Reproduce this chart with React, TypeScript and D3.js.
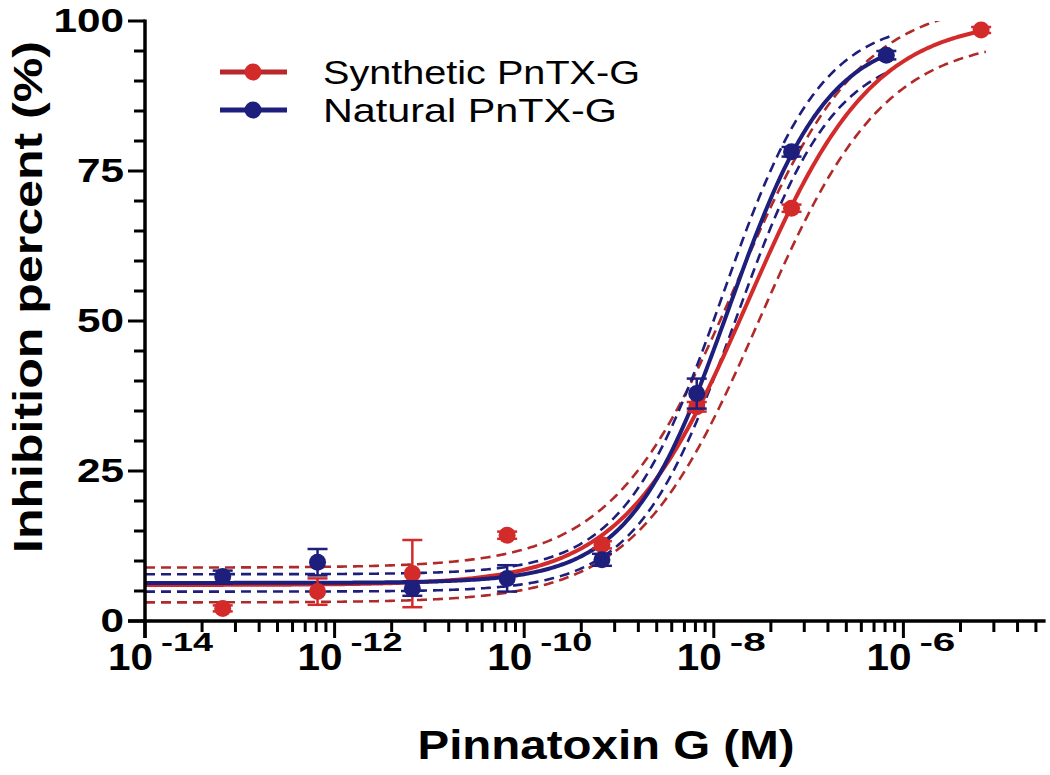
import React from 'react';
import * as d3 from 'd3';

// ---------- data ----------
const seriesNames = ['Synthetic PnTX-G', 'Natural PnTX-G'];
// log10 of concentration (M)
const synthLogConc = [-13.18, -12.18, -11.18, -10.18, -9.18, -8.18, -7.18, -5.18];
const synthMean = [2.1, 4.9, 7.9, 14.3, 12.7, 35.7, 68.8, 98.5];
const synthErr = [0.5, 2.2, 5.6, 0.6, 0.6, 0.8, 0.6, 0.5];
const naturalLogConc = [-13.18, -12.18, -11.18, -10.18, -9.18, -8.18, -7.18, -6.18];
const naturalMean = [7.4, 9.8, 5.4, 7.1, 10.2, 37.9, 78.2, 94.3];
const naturalErr = [1.0, 2.2, 1.2, 2.2, 1.0, 2.5, 0.8, 0.7];
// fitted 4PL: [bottom, top, logEC50, hillslope]
const synthFit = [6.0, 100.5, -7.64, 0.66];
const naturalFit = [6.35, 98, -7.84, 0.83];
// 95% band half widths: [bottom, top, logEC50]
const synthBand = [2.9, 3.2, 0.12];
const naturalBand = [1.45, 2.5, 0.07];
const yTickValues = [0, 25, 50, 75, 100];
const xMajorExponents = [-14, -12, -10, -8, -6];
const xTickSuperscripts = ['-14', '-12', '-10', '-8', '-6'];

const RED = '#d32a2a';
const RED_DARK = '#b02a2a';
const BLUE = '#1e1e7c';
const FONT = '"Liberation Sans", Arial, Helvetica, sans-serif';

const logistic = (p: number[], x: number) =>
  p[0] + (p[1] - p[0]) / (1 + Math.pow(10, (p[2] - x) * p[3]));

export default function App() {
  const x = d3.scaleLinear().domain([-14, -4.5]).range([145, 145 + 9.5 * 94.8]);
  const y = d3.scaleLinear().domain([0, 100]).range([621, 21]);
  const [x0, x1] = x.range();
  const [yb, yt] = y.range();

  const line = d3
    .line<[number, number]>()
    .x((d) => x(d[0]))
    .y((d) => y(d[1]))
    .curve(d3.curveLinear);

  const sample = (p: number[], xmax: number) => {
    const xs = d3.range(-14, xmax, 0.02);
    xs.push(xmax);
    return xs.map((v) => [v, logistic(p, v)] as [number, number]);
  };

  const series = [
    {
      name: seriesNames[0],
      xs: synthLogConc,
      ys: synthMean,
      es: synthErr,
      fit: synthFit,
      band: synthBand,
      color: RED,
      dash: RED_DARK,
      legendLine: '#b8272b',
    },
    {
      name: seriesNames[1],
      xs: naturalLogConc,
      ys: naturalMean,
      es: naturalErr,
      fit: naturalFit,
      band: naturalBand,
      color: BLUE,
      dash: BLUE,
      legendLine: BLUE,
    },
  ];

  // ticks
  const yMinor = d3.range(5, 100, 5).filter((v) => v % 25 !== 0);
  const xMinor: number[] = [];
  xMajorExponents.forEach((m) => {
    for (let k = 2; k <= 9; k++) {
      const v = m + 2 * Math.log10(k);
      if (v <= -4.5 + 1e-9) xMinor.push(v);
    }
  });

  const majorLen = 17;
  const minorLen = 11;

  return (
    <svg
      width={1050}
      height={775}
      style={{ position: 'absolute', left: 0, top: 0, background: '#fff' }}
      fontFamily={FONT}
    >
      <defs>
        <clipPath id="plotClip">
          <rect x={x0} y={yt} width={x1 - x0} height={yb - yt} />
        </clipPath>
      </defs>
      <rect width={1050} height={775} fill="#fff" />

      {/* bands and curves */}
      <g clipPath="url(#plotClip)">
        {series.map((s, i) => {
          const xmax = s.xs[s.xs.length - 1];
          const [b, t, e, h] = s.fit;
          const [db, dt, de] = s.band;
          const upper = sample([b + db, t + dt, e - de, h], xmax + 0.05);
          const lower = sample([b - db, t - dt, e + de, h], xmax + 0.05);
          return (
            <g key={'band' + i}>
              <path d={line(upper) || ''} fill="none" stroke={s.dash} strokeWidth={2.6} strokeDasharray="10,6" />
              <path d={line(lower) || ''} fill="none" stroke={s.dash} strokeWidth={2.6} strokeDasharray="10,6" />
            </g>
          );
        })}
        {series.map((s, i) => {
          const xmax = s.xs[s.xs.length - 1];
          return (
            <path
              key={'fit' + i}
              d={line(sample(s.fit, xmax)) || ''}
              fill="none"
              stroke={s.color}
              strokeWidth={4}
              strokeLinecap="round"
            />
          );
        })}
      </g>

      {/* error bars and points */}
      {series.map((s, i) => (
        <g key={'pts' + i}>
          {s.xs.map((xv, j) => {
            const cx = x(xv);
            const top = y(s.ys[j] + s.es[j]);
            const bot = y(s.ys[j] - s.es[j]);
            return (
              <g key={j} stroke={s.color} strokeWidth={2.5}>
                <line x1={cx} x2={cx} y1={top} y2={bot} />
                <line x1={cx - 10} x2={cx + 10} y1={top} y2={top} />
                <line x1={cx - 10} x2={cx + 10} y1={bot} y2={bot} />
              </g>
            );
          })}
          {s.xs.map((xv, j) => (
            <circle key={'c' + j} cx={x(xv)} cy={y(s.ys[j])} r={8.5} fill={s.color} />
          ))}
        </g>
      ))}

      {/* axes */}
      <g stroke="#000" fill="none">
        <line x1={x0} x2={x0} y1={yt - 1.5} y2={yb + majorLen} strokeWidth={3.5} />
        <line x1={x0 - majorLen} x2={x1} y1={yb} y2={yb} strokeWidth={3.5} />
        {yTickValues.map((v) => (
          <line key={'ym' + v} x1={x0 - majorLen} x2={x0} y1={y(v)} y2={y(v)} strokeWidth={3} />
        ))}
        {yMinor.map((v) => (
          <line key={'yn' + v} x1={x0 - minorLen} x2={x0} y1={y(v)} y2={y(v)} strokeWidth={3} />
        ))}
        {xMajorExponents.map((v) => (
          <line key={'xm' + v} x1={x(v)} x2={x(v)} y1={yb} y2={yb + majorLen} strokeWidth={3} />
        ))}
        {xMinor.map((v, k) => (
          <line key={'xn' + k} x1={x(v)} x2={x(v)} y1={yb} y2={yb + minorLen} strokeWidth={3} />
        ))}
      </g>

      {/* y tick labels */}
      {yTickValues.map((v) => {
        const label = String(v);
        return (
          <text
            key={'yl' + v}
            x={124}
            y={y(v) + 11}
            textAnchor="end"
            fontSize={34}
            fontWeight="bold"
            textLength={label.length * 23.5}
            lengthAdjust="spacingAndGlyphs"
          >
            {label}
          </text>
        );
      })}

      {/* x tick labels */}
      {xMajorExponents.map((v, k) => {
        const sup = xTickSuperscripts[k];
        return (
          <g key={'xl' + v}>
            <text
              x={x(v) + 8}
              y={670}
              textAnchor="end"
              fontSize={36}
              fontWeight="bold"
              textLength={45}
              lengthAdjust="spacingAndGlyphs"
            >
              10
            </text>
            <text
              x={x(v) + 16}
              y={651}
              fontSize={25}
              fontWeight="bold"
              textLength={sup.length * 16 + 4}
              lengthAdjust="spacingAndGlyphs"
            >
              {sup}
            </text>
          </g>
        );
      })}

      {/* axis titles */}
      <text
        x={606}
        y={759}
        textAnchor="middle"
        fontSize={40}
        fontWeight="bold"
        textLength={377}
        lengthAdjust="spacingAndGlyphs"
      >
        Pinnatoxin G (M)
      </text>
      <text
        transform={`translate(42,297) rotate(-90)`}
        textAnchor="middle"
        fontSize={40}
        fontWeight="bold"
        textLength={512}
        lengthAdjust="spacingAndGlyphs"
      >
        Inhibition percent (%)
      </text>

      {/* legend */}
      {series.map((s, i) => {
        const ly = 72 + i * 38;
        return (
          <g key={'lg' + i}>
            <line x1={220} x2={287} y1={ly} y2={ly} stroke={s.legendLine} strokeWidth={5} />
            <circle cx={253} cy={ly} r={8.5} fill={s.color} />
            <text
              x={323}
              y={ly + 12}
              fontSize={34}
              textLength={i === 0 ? 317 : 294}
              lengthAdjust="spacingAndGlyphs"
            >
              {s.name}
            </text>
          </g>
        );
      })}
    </svg>
  );
}
